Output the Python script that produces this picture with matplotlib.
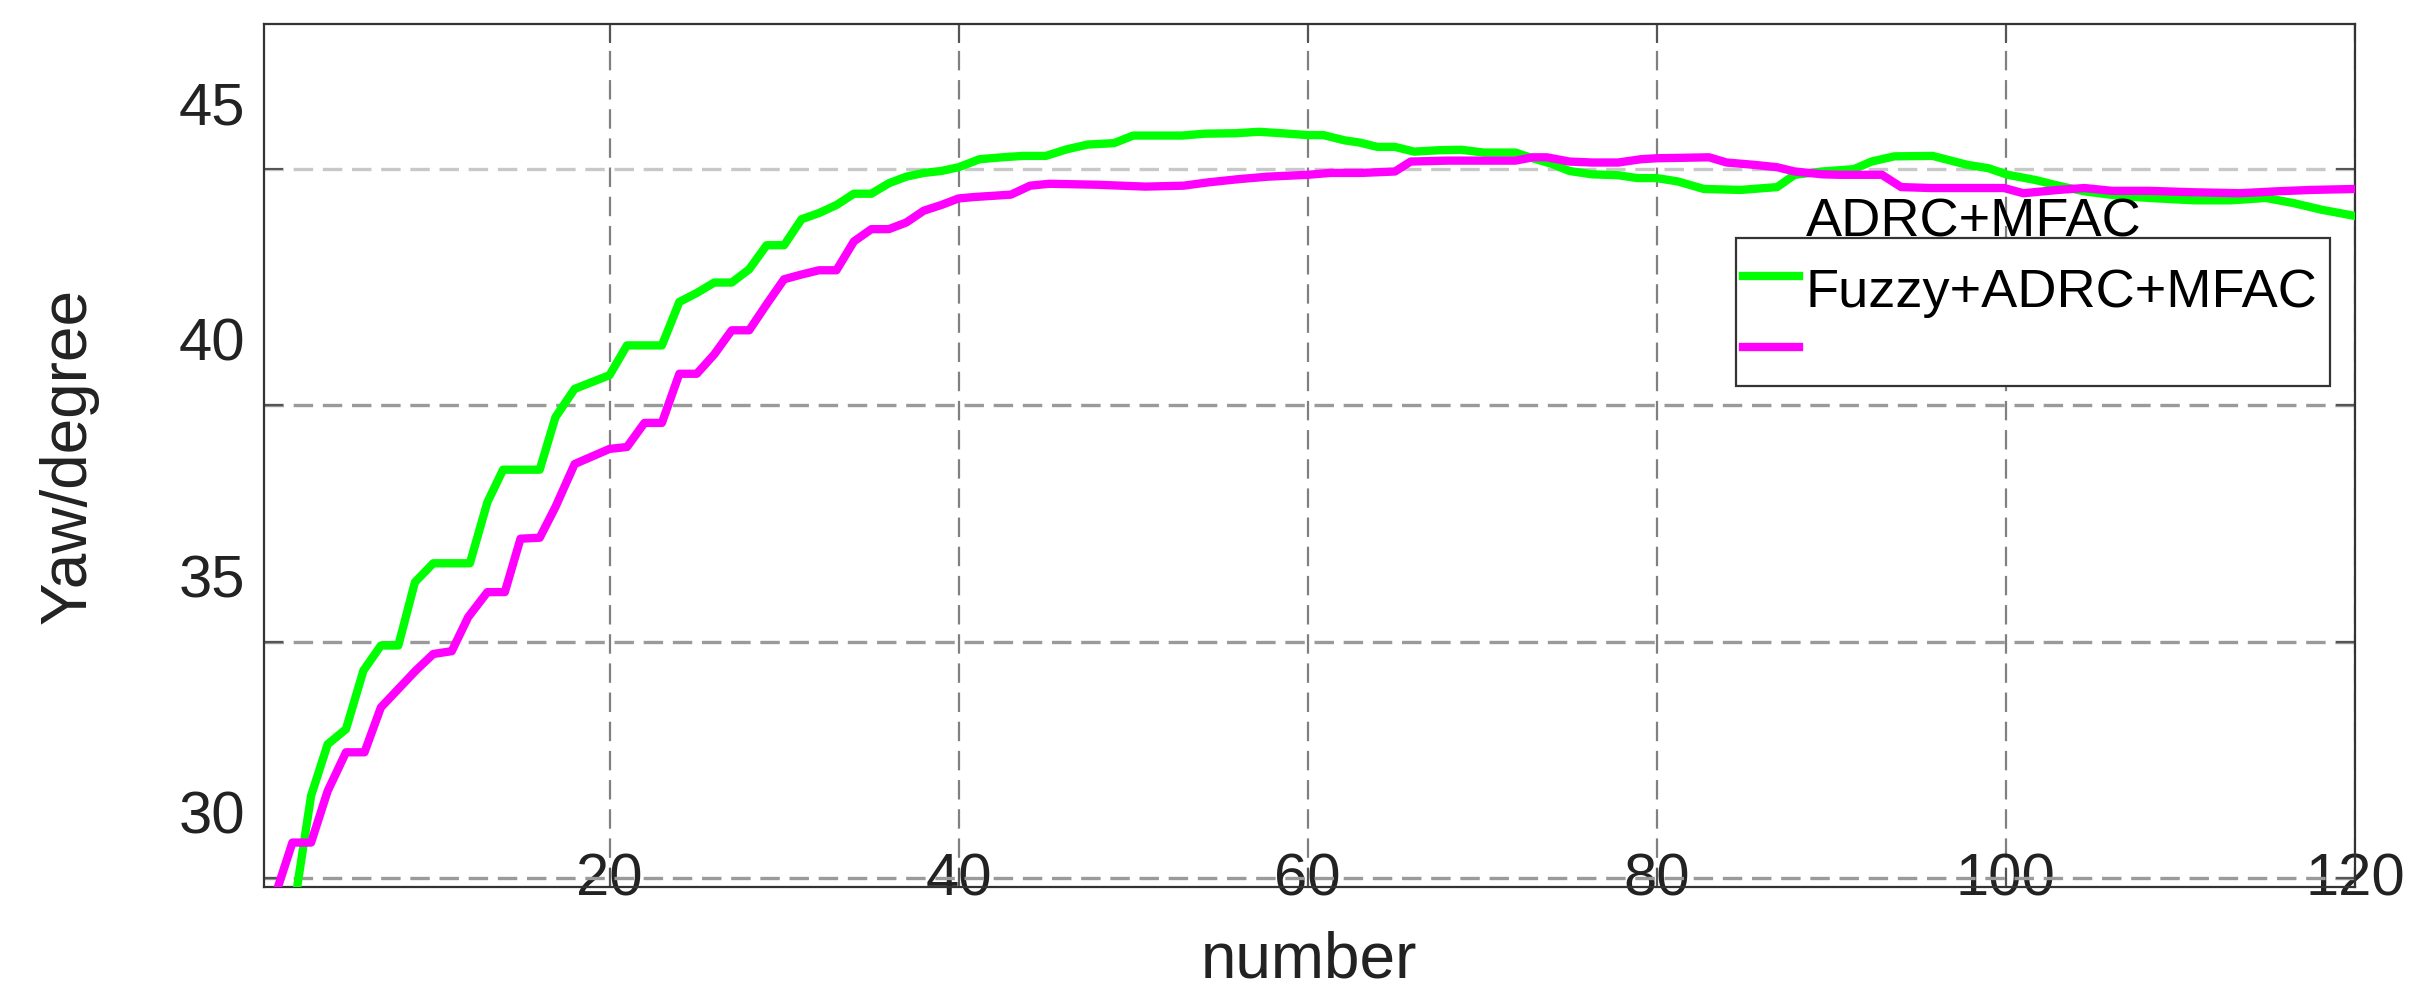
import matplotlib
matplotlib.use("Agg")
import matplotlib.pyplot as plt
from matplotlib.lines import Line2D
from matplotlib.patches import Rectangle
from matplotlib.transforms import ScaledTranslation

plt.rcParams['font.family'] = ['Liberation Sans', 'DejaVu Sans']
plt.rcParams['lines.scale_dashes'] = False

# Data (x = sample number, y = yaw in degrees)
green_x = [1.5, 2.1, 2.9, 3.85, 4.9, 5.9, 6.9, 7.9, 8.85, 9.9,
           12.0, 13.0, 13.9, 16.0, 16.9, 18.0, 20.0,
           21, 23, 24, 25, 26, 27, 28, 29, 30, 31, 32, 33, 34, 35, 36, 37, 38, 39, 40,
           41.2, 42.5, 43.7, 45.0, 46.2, 47.4, 48.9, 50.0, 52.8, 54.1,
           55.9, 57.2, 58.5, 60.0, 60.9, 62.1, 63.0, 64.0, 65.0, 66.1,
           67.5, 68.8, 70.1, 71.9, 72.9, 74.0, 75.0, 76.3, 77.8, 78.9,
           80.0, 81.2, 82.7, 84.8, 86.9, 87.9, 89.5, 91.3, 92.3, 93.6,
           95.8, 97.8, 99.0, 100.1, 101.7, 103.0, 104.5, 106.4, 108.2, 110.8,
           112.9, 114.9, 116.5, 118.1, 120.0]
green_y = [28.3, 29.8, 31.74, 32.83, 33.15, 34.39, 34.92, 34.92, 36.26, 36.66,
           36.66, 37.95, 38.64, 38.64, 39.75, 40.35, 40.64,
           41.27, 41.27, 42.19, 42.38, 42.6, 42.6, 42.88, 43.39, 43.39, 43.94,
           44.07, 44.24, 44.48, 44.48, 44.7, 44.84, 44.92, 44.96, 45.04,
           45.21, 45.25, 45.28, 45.28, 45.42, 45.52, 45.55, 45.71, 45.71, 45.75,
           45.76, 45.79, 45.76, 45.72, 45.72, 45.61, 45.56, 45.47, 45.47, 45.37,
           45.4, 45.41, 45.35, 45.35, 45.23, 45.11, 44.96, 44.89, 44.87, 44.81,
           44.81, 44.74, 44.58, 44.56, 44.62, 44.88, 44.95, 45.0, 45.16, 45.27,
           45.28, 45.09, 45.02, 44.88, 44.77, 44.65, 44.53, 44.44, 44.39, 44.34,
           44.34, 44.39, 44.28, 44.14, 44.01]

magenta_x = [0.5, 0.96, 1.83, 2.9, 3.85, 4.9, 5.96, 6.9, 7.9, 8.9,
             9.9, 10.96, 11.9, 13.0, 14.0, 14.9, 16.0, 16.9, 18.0, 20.0,
             21, 22, 23, 24, 25, 26, 27, 28, 29, 30,
             31, 32, 33, 34, 35, 36, 37, 38, 39, 40,
             40.9, 43.0, 44.1, 45.2, 47.9, 50.7, 52.9, 54.3, 56.1, 57.7,
             60.0, 61.3, 63.1, 65.0, 65.9, 68.0, 71.9, 72.9, 73.7, 75.0,
             76.3, 77.8, 79.1, 80.0, 83.0, 84.0, 85.6, 86.9, 87.9, 89.5,
             90.5, 92.9, 94.0, 95.7, 99.9, 101.0, 103.0, 104.5, 106.1, 108.2,
             110.8, 113.4, 115.5, 117.5, 120.0]
magenta_y = [29.2, 29.76, 30.75, 30.75, 31.84, 32.66, 32.66, 33.61, 34.0, 34.39,
             34.74, 34.8, 35.52, 36.05, 36.05, 37.18, 37.2, 37.85, 38.76, 39.08,
             39.12, 39.63, 39.63, 40.67, 40.67, 41.08, 41.59, 41.59, 42.14, 42.67,
             42.77, 42.86, 42.86, 43.47, 43.73, 43.73, 43.87, 44.12, 44.24, 44.38,
             44.41, 44.46, 44.65, 44.69, 44.67, 44.63, 44.65, 44.72, 44.79, 44.84,
             44.88, 44.92, 44.92, 44.95, 45.16, 45.18, 45.18, 45.25, 45.25, 45.16,
             45.14, 45.14, 45.21, 45.23, 45.25, 45.14, 45.09, 45.04, 44.95, 44.89,
             44.88, 44.88, 44.62, 44.6, 44.6, 44.49, 44.56, 44.6, 44.54, 44.54,
             44.51, 44.49, 44.53, 44.56, 44.58]

x_ticks = [20, 40, 60, 80, 100, 120]
y_ticks = [30, 35, 40, 45]
legend_labels = ['ADRC+MFAC', 'Fuzzy+ADRC+MFAC']

fig = plt.figure(figsize=(24.26, 10.06), dpi=100)
ax = fig.add_axes([0.1088, 0.1183, 0.8619, 0.8578])

ax.plot(green_x, green_y, color='#00ff00', lw=6, solid_joinstyle='round', zorder=3)
ax.plot(magenta_x, magenta_y, color='#ff00ff', lw=6, solid_joinstyle='round', zorder=3)

ax.set_xlim(0.2, 120)
ax.set_ylim(29.81, 48.07)
ax.set_xticks(x_ticks)
ax.set_yticks(y_ticks)

# grid
ax.grid(True, axis='x', color='#808080', lw=1.6, linestyle=(0, (14, 7)))
ax.grid(True, axis='y', color='#9a9a9a', lw=2.4, linestyle=(0, (14, 7)))
ax.get_ygridlines()[-1].set_color('#c8c8c8')

for s in ax.spines.values():
    s.set_color('#333333')
    s.set_linewidth(1.6)

ax.tick_params(direction='in', length=14, width=1.5, color='#555555',
               top=True, right=True, labelsize=43, labelcolor='#222222')
ax.tick_params(axis='x', pad=-24.5)
ax.tick_params(axis='y', pad=13.5)

# tick labels are shifted up relative to their grid lines, as in the original
off = ScaledTranslation(0, 0.66, fig.dpi_scale_trans)
for lab in ax.get_yticklabels():
    lab.set_transform(lab.get_transform() + off)

ax.set_xlabel('number', fontsize=46, color='#222222')
ax.xaxis.set_label_coords(0.5, -0.05)
ax.set_ylabel('Yaw/degree', fontsize=46, color='#222222')
ax.yaxis.set_label_coords(-0.079, 0.5)

# legend (labels sit one row too high, as in the reference)
fig.add_artist(Rectangle((0.7156, 0.6163), 0.9604 - 0.7156, 0.7634 - 0.6163,
                         transform=fig.transFigure, facecolor='white',
                         edgecolor='#333333', lw=1.6, zorder=4))
fig.add_artist(Line2D([0.7185, 0.7416], [0.7256, 0.7256], transform=fig.transFigure,
                      color='#00ff00', lw=6, zorder=5))
fig.add_artist(Line2D([0.7185, 0.7416], [0.6551, 0.6551], transform=fig.transFigure,
                      color='#ff00ff', lw=6, zorder=5))
fig.text(0.7444, 0.7654, legend_labels[0], fontsize=39, color='black',
         va='baseline', ha='left', zorder=3)
fig.text(0.7444, 0.6948, legend_labels[1], fontsize=39, color='black',
         va='baseline', ha='left', zorder=6)

fig.savefig('out.png', dpi=100)
